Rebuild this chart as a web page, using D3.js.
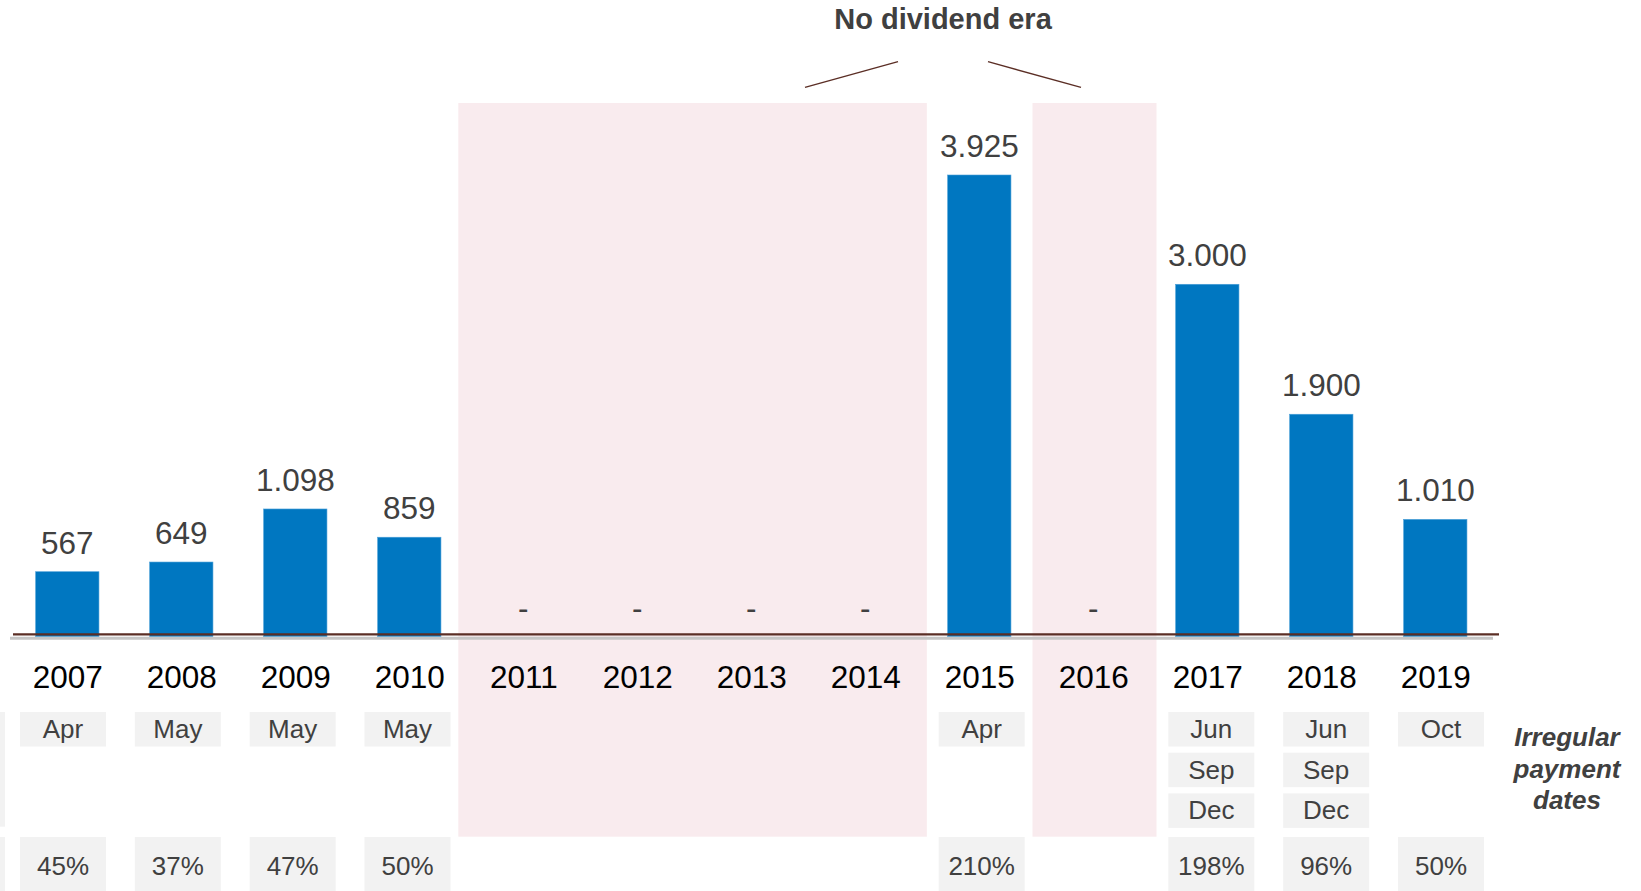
<!DOCTYPE html>
<html>
<head>
<meta charset="utf-8">
<script src="https://cdn.jsdelivr.net/npm/d3@7"></script>
<style>
  html, body { margin: 0; padding: 0; background: #fff; }
  svg { display: block; font-family: "Liberation Sans", Arial, sans-serif; }
</style>
</head>
<body>
<svg id="chart" width="1641" height="891"></svg>
<script>
// ---------------- DATA ----------------
const years = ["2007","2008","2009","2010","2011","2012","2013","2014","2015","2016","2017","2018","2019"];
const dividends = [567, 649, 1098, 859, null, null, null, null, 3925, null, 3000, 1900, 1010];
const paymentMonths = [["Apr"],["May"],["May"],["May"],[],[],[],[],["Apr"],[],["Jun","Sep","Dec"],["Jun","Sep","Dec"],["Oct"]];
const payoutRatio = [45, 37, 47, 50, null, null, null, null, 210, null, 198, 96, 50];
const noDividendPeriods = [["2011","2014"],["2016","2016"]];
const titleText = "No dividend era";
const sideLabel = ["Irregular", "payment", "dates"];

// ---------------- SETUP ----------------
const svg = d3.select("#chart");

const x = d3.scalePoint().domain(years).range([67.3, 1435.3]);
const xt = d3.scalePoint().domain(years).range([63, 1441]);   // table columns
const barW = 63.3;
const y = d3.scaleLinear().domain([0, 3925]).range([638.7, 175]);

const fmt = d3.formatLocale({decimal: ",", thousands: ".", grouping: [3], currency: ["", ""]}).format(",");

const BLUE = "#0077c1";
const PINK = "#f9ebee";
const BROWN = "#5b2e25";
const GREYTXT = "#404040";
const BOX = "#f2f2f2";

// ---------------- NO DIVIDEND SHADING ----------------
svg.append("g").selectAll("rect")
  .data(noDividendPeriods)
  .join("rect")
  .attr("x", d => xt(d[0]) - 64)
  .attr("width", d => xt(d[1]) - xt(d[0]) + 124)
  .attr("y", 103)
  .attr("height", 836.7 - 103)
  .attr("fill", PINK);

// title + pointer lines
svg.append("text")
  .attr("x", 943)
  .attr("y", 29)
  .attr("text-anchor", "middle")
  .attr("font-size", 29)
  .attr("font-weight", "bold")
  .attr("fill", GREYTXT)
  .text(titleText);

const mid = 943;
svg.append("line")
  .attr("x1", mid - 138).attr("y1", 87.3).attr("x2", mid - 45).attr("y2", 61.7)
  .attr("stroke", BROWN).attr("stroke-width", 1.4);
svg.append("line")
  .attr("x1", mid + 45).attr("y1", 61.7).attr("x2", mid + 138).attr("y2", 87.3)
  .attr("stroke", BROWN).attr("stroke-width", 1.4);

// ---------------- BARS ----------------
const rows = years.map((yr, i) => ({year: yr, value: dividends[i], months: paymentMonths[i], ratio: payoutRatio[i]}));

svg.append("g").selectAll("rect")
  .data(rows.filter(d => d.value != null))
  .join("rect")
  .attr("x", d => x(d.year) - barW / 2)
  .attr("width", barW)
  .attr("y", d => y(d.value))
  .attr("height", d => y(0) - 2 - y(d.value))
  .attr("fill", BLUE)
  .attr("stroke", "#4a9fd8")
  .attr("stroke-width", 0.6);

// baseline (grey shadow + brown axis line)
svg.append("line")
  .attr("x1", 10).attr("x2", 1493).attr("y1", y(0) - 0.5).attr("y2", y(0) - 0.5)
  .attr("stroke", "#c6c6c6").attr("stroke-width", 3);
svg.append("line")
  .attr("x1", 13).attr("x2", 1499).attr("y1", y(0) - 4.3).attr("y2", y(0) - 4.3)
  .attr("stroke", BROWN).attr("stroke-width", 2.3);

// value labels
svg.append("g").selectAll("text")
  .data(rows)
  .join("text")
  .attr("x", d => x(d.year))
  .attr("y", d => d.value == null ? y(0) - 20 : y(d.value) - 18)
  .attr("text-anchor", "middle")
  .attr("font-size", 31.5)
  .attr("fill", GREYTXT)
  .text(d => d.value == null ? "-" : fmt(d.value));

// year axis labels
const axis = d3.axisBottom(x).tickSize(0).tickPadding(0);
const gAxis = svg.append("g").attr("transform", "translate(0,665)").call(axis);
gAxis.select(".domain").remove();
gAxis.selectAll("text")
  .attr("font-size", 31.5)
  .attr("font-family", "'Liberation Sans', Arial, sans-serif")
  .attr("fill", "#000")
  .attr("dy", 0)
  .attr("y", 23);

// ---------------- TABLE ----------------
const colW = 86;
const colX = d => xt(d.year);
const rowTop0 = 712, rowPitch = 40.7, rowH = 34.5;

// left cut-off header column boxes
svg.append("rect").attr("x", -100).attr("width", 105).attr("y", rowTop0).attr("height", 826.7 - rowTop0).attr("fill", BOX);
svg.append("rect").attr("x", -100).attr("width", 105).attr("y", 837).attr("height", 80).attr("fill", BOX);

const monthCells = rows.flatMap(d => d.months.map((m, k) => ({year: d.year, m, k})));
const gm = svg.append("g");
gm.selectAll("rect")
  .data(monthCells)
  .join("rect")
  .attr("x", d => colX(d) - colW / 2)
  .attr("width", colW)
  .attr("y", d => rowTop0 + d.k * rowPitch)
  .attr("height", rowH)
  .attr("fill", BOX);
gm.selectAll("text")
  .data(monthCells)
  .join("text")
  .attr("x", d => colX(d))
  .attr("y", d => rowTop0 + d.k * rowPitch + 26)
  .attr("text-anchor", "middle")
  .attr("font-size", 26)
  .attr("fill", GREYTXT)
  .text(d => d.m);

const ratioCells = rows.filter(d => d.ratio != null);
const gr = svg.append("g");
gr.selectAll("rect")
  .data(ratioCells)
  .join("rect")
  .attr("x", d => colX(d) - colW / 2)
  .attr("width", colW)
  .attr("y", 837)
  .attr("height", 80)
  .attr("fill", BOX);
gr.selectAll("text")
  .data(ratioCells)
  .join("text")
  .attr("x", d => colX(d))
  .attr("y", 874.5)
  .attr("text-anchor", "middle")
  .attr("font-size", 26)
  .attr("fill", GREYTXT)
  .text(d => d.ratio + "%");

// side label
svg.append("g").selectAll("text")
  .data(sideLabel)
  .join("text")
  .attr("x", 1567)
  .attr("y", (d, i) => 746 + i * 31.5)
  .attr("text-anchor", "middle")
  .attr("font-size", 26)
  .attr("font-weight", "bold")
  .attr("font-style", "italic")
  .attr("fill", GREYTXT)
  .text(d => d);
</script>
</body>
</html>
